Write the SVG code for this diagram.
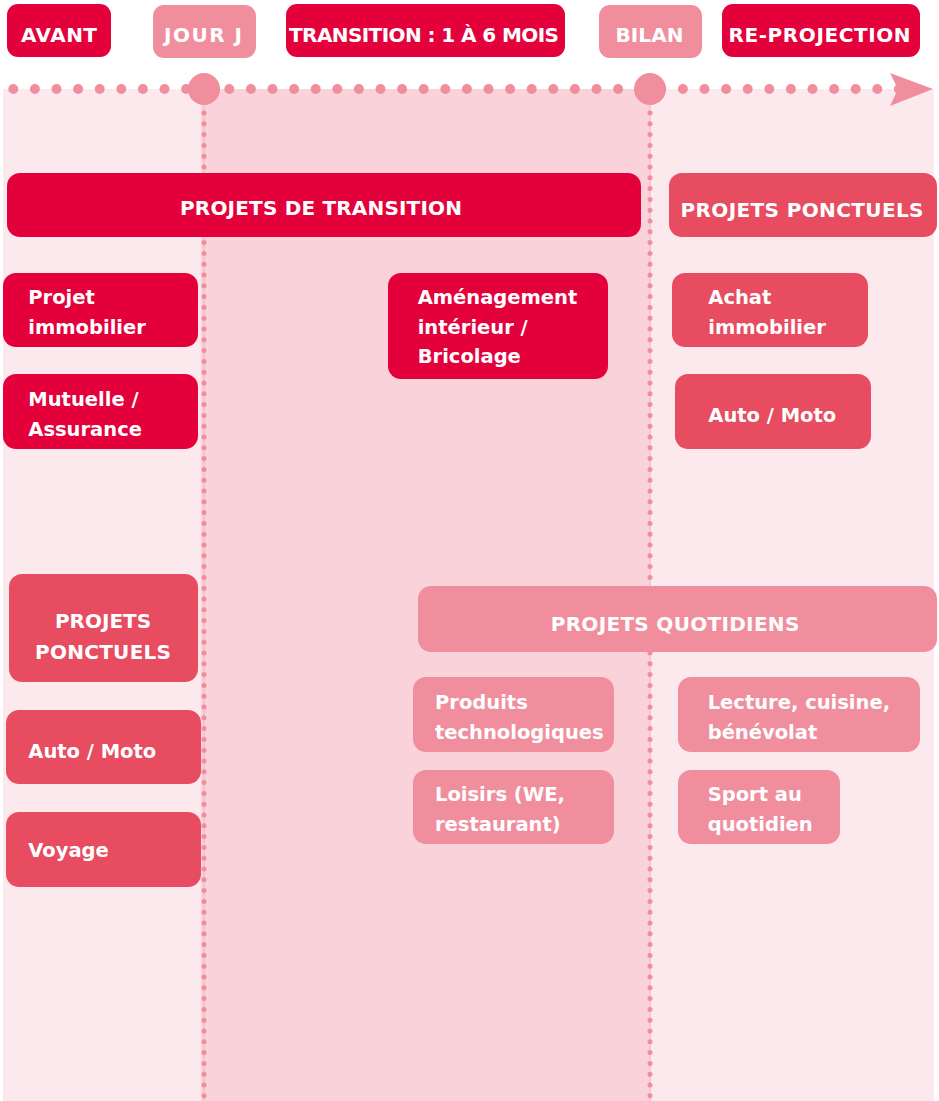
<svg xmlns="http://www.w3.org/2000/svg" width="939" height="1101" viewBox="0 0 939 1101">
<defs>
<style>
text{font-family:"DejaVu Sans","Liberation Sans",sans-serif;font-weight:bold;fill:#ffffff;}
.h{font-size:20px;text-anchor:middle;}
.b{font-size:19.5px;}
.dark{fill:#e4003b;}
.mid{fill:#e84c60;}
.pink{fill:#f08e9e;}
.dots{stroke:#f08e9e;stroke-linecap:round;fill:none;}
</style>
</defs>
<rect x="0" y="0" width="939" height="1101" fill="#ffffff"/>
<g id="panels">
<rect x="3" y="89" width="931" height="1012" fill="#fbe9ed"/>
<rect x="201" y="89" width="448" height="1012" fill="#f9d2da"/>
</g>
<g id="connectors">
<line x1="204" y1="100" x2="204" y2="1101" stroke="#f5bcc8" stroke-width="1.5"/>
<line x1="650" y1="100" x2="650" y2="1101" stroke="#f5bcc8" stroke-width="1.5"/>
<line class="dots" x1="204" y1="113" x2="204" y2="1101" stroke-width="5" stroke-dasharray="0 10.8"/>
<line class="dots" x1="650" y1="113" x2="650" y2="1101" stroke-width="5" stroke-dasharray="0 10.8"/>
<line class="dots" x1="13.3" y1="89" x2="899" y2="89" stroke-width="10" stroke-dasharray="0 21.6"/>
<circle cx="204" cy="89" r="16" fill="#f08e9e"/>
<circle cx="650" cy="89" r="16" fill="#f08e9e"/>
<polygon points="890,73 933,89 890,106 898,89" fill="#f08e9e"/>
</g>
<g id="h-avant"><rect class="dark" x="7" y="4" width="104" height="53" rx="11"/><text class="h" x="59" y="42" textLength="76">AVANT</text></g>
<g id="h-jourj"><rect class="pink" x="153" y="5" width="103" height="53" rx="11"/><text class="h" x="203" y="42" textLength="78">JOUR J</text></g>
<g id="h-transition"><rect class="dark" x="286" y="4" width="279" height="53" rx="11"/><text class="h" x="424" y="42" textLength="270">TRANSITION : 1 À 6 MOIS</text></g>
<g id="h-bilan"><rect class="pink" x="599" y="5" width="103" height="53" rx="11"/><text class="h" x="649.5" y="42" textLength="68">BILAN</text></g>
<g id="h-reprojection"><rect class="dark" x="722" y="4" width="198" height="53" rx="11"/><text class="h" x="819.5" y="42" textLength="182">RE-PROJECTION</text></g>

<g id="n-projets-transition"><rect class="dark" x="7" y="173" width="634" height="64" rx="13"/><text class="h" x="321" y="215" textLength="282">PROJETS DE TRANSITION</text></g>
<g id="n-projets-ponctuels-r"><rect class="mid" x="669" y="173" width="268" height="64" rx="13"/><text class="h" x="802" y="216.5" textLength="243">PROJETS PONCTUELS</text></g>
<g id="n-projet-immobilier"><rect class="dark" x="3" y="273" width="195" height="74" rx="13"/><text class="b" x="28.3" y="304">Projet</text><text class="b" x="28.3" y="333.5">immobilier</text></g>
<g id="n-mutuelle"><rect class="dark" x="3" y="374" width="195" height="75" rx="13"/><text class="b" x="28.3" y="405.7">Mutuelle /</text><text class="b" x="28.3" y="436">Assurance</text></g>
<g id="n-amenagement"><rect class="dark" x="388" y="273" width="220" height="106" rx="13"/><text class="b" x="417.7" y="304">Aménagement</text><text class="b" x="417.7" y="333.5">intérieur /</text><text class="b" x="417.7" y="363">Bricolage</text></g>
<g id="n-achat"><rect class="mid" x="672" y="273" width="196" height="74" rx="13"/><text class="b" x="708.3" y="304">Achat</text><text class="b" x="708.3" y="333.5">immobilier</text></g>
<g id="n-auto-r"><rect class="mid" x="675" y="374" width="196" height="75" rx="13"/><text class="b" x="708.3" y="421.7">Auto / Moto</text></g>
<g id="n-projets-ponctuels-l"><rect class="mid" x="9" y="574" width="189" height="108" rx="13"/><text class="h" x="103" y="627.7">PROJETS</text><text class="h" x="103" y="659.3" textLength="136">PONCTUELS</text></g>
<g id="n-auto-l"><rect class="mid" x="6" y="710" width="195" height="74" rx="13"/><text class="b" x="28.3" y="758.3">Auto / Moto</text></g>
<g id="n-voyage"><rect class="mid" x="6" y="812" width="195" height="75" rx="13"/><text class="b" x="28.3" y="856.7">Voyage</text></g>
<g id="n-projets-quotidiens"><rect class="pink" x="418" y="586" width="519" height="66" rx="13"/><text class="h" x="675" y="630.7" textLength="248.6">PROJETS QUOTIDIENS</text></g>
<g id="n-produits"><rect class="pink" x="413" y="677" width="201" height="75" rx="13"/><text class="b" x="435" y="709.3">Produits</text><text class="b" x="435" y="739.3">technologiques</text></g>
<g id="n-loisirs"><rect class="pink" x="413" y="770" width="201" height="74" rx="13"/><text class="b" x="435" y="800.7">Loisirs (WE,</text><text class="b" x="435" y="830.7">restaurant)</text></g>
<g id="n-lecture"><rect class="pink" x="678" y="677" width="242" height="75" rx="13"/><text class="b" x="707.7" y="709.3">Lecture, cuisine,</text><text class="b" x="707.7" y="739.3">bénévolat</text></g>
<g id="n-sport"><rect class="pink" x="678" y="770" width="162" height="74" rx="13"/><text class="b" x="707.7" y="800.7">Sport au</text><text class="b" x="707.7" y="830.7">quotidien</text></g>
</svg>
